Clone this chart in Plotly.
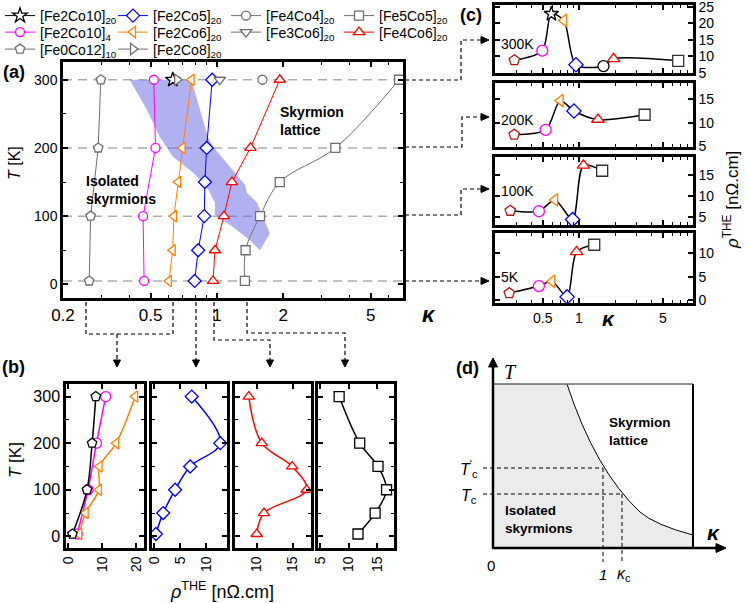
import math
import plotly.graph_objects as go

W, H = 747, 603
FONT = "Liberation Sans, Arial, sans-serif"
SERIF = "Liberation Serif, Times New Roman, serif"


def fx(p):
    return p / W


def fy(p):
    return 1 - p / H


# ---------------- panel (a): kappa vs T ----------------
T6 = [300, 200, 150, 100, 50, 5]
T4 = [300, 200, 100, 5]
T1 = [300]
kappa_Fe0Co12_10 = [0.297, 0.289, 0.267, 0.263]
kappa_Fe2Co10_4 = [0.517, 0.526, 0.462, 0.467]
kappa_Fe2Co10_20 = [0.63]
kappa_Fe2Co8_20 = [0.66]
kappa_Fe2Co6_20 = [0.767, 0.698, 0.667, 0.638, 0.630, 0.605]
kappa_Fe2Co5_20 = [0.952, 0.898, 0.882, 0.876, 0.822, 0.792]
kappa_Fe3Co6_20 = [1.03]
kappa_Fe4Co4_20 = [1.61]
kappa_Fe4Co6_20 = [1.93, 1.42, 1.17, 1.076, 0.98, 0.96]
kappa_Fe5Co5_20 = [6.72, 3.45, 1.93, 1.57, 1.35, 1.34]

# crossover band (kappa, T)
band_kappa = [0.765, 0.837, 0.910, 0.959, 1.182, 1.34, 1.37, 1.52, 1.74, 1.57,
              1.41, 1.182, 0.979, 0.979, 0.90, 0.778, 0.631, 0.551, 0.481, 0.402]
band_T = [300, 256, 216, 202, 168, 146, 134, 120, 75, 50,
          65, 84, 102, 120, 143, 164, 187, 216, 256, 300]

# ---------------- panel (b): rho_THE vs T ----------------
rho_b_Fe0Co12 = [8.1, 7.0, 5.5, 1.2]
rho_b_Fe2Co10_4 = [11.0, 8.3, 5.8, 2.6]
rho_b_Fe2Co6 = [19.7, 14.1, 9.2, 9.0, 5.1, 3.2]
rho_b_Fe2Co5 = [7.2, 12.7, 6.9, 4.0, 1.7, 0.3]
rho_b_Fe4Co6 = [8.9, 10.7, 14.9, 16.9, 11.0, 10.0]
rho_b_Fe5Co5 = [8.3, 11.9, 15.1, 16.6, 14.6, 11.6]

# ---------------- panel (c): rho_THE vs kappa ----------------
kappa_c_300 = [0.29, 0.495, 0.589, 0.748, 0.944, 1.60, 1.94, 6.70]
rho_c_300 = [8.8, 11.7, 22.9, 20.9, 7.4, 7.0, 9.2, 8.6]
kappa_c_200 = [0.289, 0.528, 0.70, 0.908, 1.44, 3.52]
rho_c_200 = [7.5, 8.5, 14.7, 12.5, 10.7, 11.7]
kappa_c_100 = [0.268, 0.464, 0.63, 0.885, 1.09, 1.56]
rho_c_100 = [6.4, 6.3, 9.0, 4.3, 17.3, 16.0]
kappa_c_5 = [0.263, 0.464, 0.597, 0.797, 0.956, 1.34]
rho_c_5 = [1.5, 3.0, 4.0, 0.7, 10.3, 11.8]

# tick labels
a_xticks = [0.2, 0.5, 1, 2, 5]
a_xtext = ["0.2", "0.5", "1", "2", "5"]
T_ticks = [0, 100, 200, 300]
c_xticks = [0.5, 1, 5]
c_xtext = ["0.5", "1", "5"]

BLACK = "#000000"
BLUE = "#0000ff"
MAGENTA = "#ff00ff"
ORANGE = "#ff8000"
RED = "#ff0000"
GREY = "#6e6e6e"
DARKRED = "#b01818"
DARK = "#333333"

fig = go.Figure()

# band
fig.add_trace(go.Scatter(x=band_kappa, y=band_T, mode="lines", fill="toself",
                         fillcolor="rgba(100,100,230,0.5)", line=dict(width=0),
                         xaxis="x", yaxis="y", showlegend=False, hoverinfo="skip"))

samples_a = [
    ("[Fe2Co10]<sub>20</sub>", kappa_Fe2Co10_20, T1, "star", BLACK, "legend", 11),
    ("[Fe2Co5]<sub>20</sub>", kappa_Fe2Co5_20, T6, "diamond", BLUE, "legend", 10),
    ("[Fe4Co4]<sub>20</sub>", kappa_Fe4Co4_20, T1, "circle", GREY, "legend", 9),
    ("[Fe5Co5]<sub>20</sub>", kappa_Fe5Co5_20, T6, "square", GREY, "legend", 9),
    ("[Fe2Co10]<sub>4</sub>", kappa_Fe2Co10_4, T4, "circle", MAGENTA, "legend2", 9),
    ("[Fe2Co6]<sub>20</sub>", kappa_Fe2Co6_20, T6, "triangle-left", ORANGE, "legend2", 10),
    ("[Fe3Co6]<sub>20</sub>", kappa_Fe3Co6_20, T1, "triangle-down", GREY, "legend2", 10),
    ("[Fe4Co6]<sub>20</sub>", kappa_Fe4Co6_20, T6, "triangle-up", RED, "legend2", 10),
    ("[Fe0Co12]<sub>10</sub>", kappa_Fe0Co12_10, T4, "pentagon", GREY, "legend3", 10),
    ("[Fe2Co8]<sub>20</sub>", kappa_Fe2Co8_20, T1, "triangle-right", GREY, "legend3", 10),
]
for name, k, t, sym, col, leg, sz in samples_a:
    shape = "spline" if "Fe5Co5" in name else "linear"
    fig.add_trace(go.Scatter(
        x=k, y=t, mode="lines+markers", name=name, legend=leg,
        line=dict(color=col, width=1, shape=shape),
        marker=dict(symbol=sym, size=sz, color="white", line=dict(color=col, width=1.3)),
        xaxis="x", yaxis="y"))

# panel (b)
b_series = [
    ("x2", "y2", rho_b_Fe2Co10_4, T4, "circle", MAGENTA),
    ("x2", "y2", rho_b_Fe2Co6, T6, "triangle-left", ORANGE),
    ("x2", "y2", rho_b_Fe0Co12, T4, "pentagon", BLACK),
    ("x3", "y3", rho_b_Fe2Co5, T6, "diamond", BLUE),
    ("x4", "y4", rho_b_Fe4Co6, T6, "triangle-up", RED),
    ("x5", "y5", rho_b_Fe5Co5, T6, "square", BLACK),
]
for xa, ya, r, t, sym, col in b_series:
    fig.add_trace(go.Scatter(
        x=r, y=t, mode="lines+markers", showlegend=False,
        line=dict(color=col, width=1.5, shape="spline", smoothing=1),
        marker=dict(symbol=sym, size=10, color="white", line=dict(color=col, width=1.3)),
        xaxis=xa, yaxis=ya))

# panel (c)
sym8 = ["pentagon", "circle", "star", "triangle-left", "diamond", "circle", "triangle-up", "square"]
col8 = [DARKRED, MAGENTA, BLACK, ORANGE, BLUE, BLACK, RED, DARK]
sym6 = ["pentagon", "circle", "triangle-left", "diamond", "triangle-up", "square"]
col6 = [DARKRED, MAGENTA, ORANGE, BLUE, RED, DARK]
c_series = [
    ("x6", "y6", kappa_c_300, rho_c_300, sym8, col8),
    ("x7", "y7", kappa_c_200, rho_c_200, sym6, col6),
    ("x8", "y8", kappa_c_100, rho_c_100, sym6, col6),
    ("x9", "y9", kappa_c_5, rho_c_5, sym6, col6),
]
for xa, ya, k, r, syms, cols in c_series:
    fig.add_trace(go.Scatter(
        x=k, y=r, mode="lines+markers", showlegend=False,
        line=dict(color="black", width=1.5, shape="spline", smoothing=0.8),
        marker=dict(symbol=syms, size=11, color="white", line=dict(color=cols, width=1.3)),
        xaxis=xa, yaxis=ya))


def axis(dom, rng, size=14, **kw):
    d = dict(domain=dom, range=rng, showline=True, linecolor="black", linewidth=2.5,
             mirror="allticks", ticks="inside", ticklen=5, tickwidth=1.5, tickcolor="black",
             showgrid=False, zeroline=False, fixedrange=True, automargin=False,
             ticklabeloverflow="allow",
             tickfont=dict(family=FONT, size=size, color="black"))
    d.update(kw)
    return d


def minor(vals):
    return dict(tickvals=vals, ticks="inside", ticklen=3, tickwidth=1.2, tickcolor="black", showgrid=False)


L = math.log10
ax = {}
# (a)
ax["xaxis"] = axis([fx(63), fx(403)], [L(0.2), L(7)], size=17, type="log", anchor="y",
                   tickmode="array", tickvals=a_xticks, ticktext=a_xtext,
                   minor=minor([0.3, 0.4, 0.6, 0.7, 0.8, 0.9, 3, 4, 6, 7]))
ax["yaxis"] = axis([fy(298), fy(62)], [-20, 326], size=14, anchor="x",
                   tickmode="array", tickvals=T_ticks, minor=minor([50, 150, 250]))
# (b)
b_dom = [(66, 144, [-0.7, 22.3], [0, 10, 20]), (152, 227, [-0.45, 14], [0, 5, 10]),
         (235, 311, [7, 17.5], [10, 15]), (318, 394, [4.6, 17.9], [5, 10, 15])]
for i, (x0, x1, rng, tv) in enumerate(b_dom):
    n = i + 2
    ax[f"xaxis{n}"] = axis([fx(x0), fx(x1)], rng, size=14, anchor=f"y{n}", tickangle=-90,
                           tickmode="array", tickvals=tv)
    ax[f"yaxis{n}"] = axis([fy(548), fy(384)], [-25, 327], size=16, anchor=f"x{n}",
                           tickmode="array", tickvals=T_ticks, showticklabels=(n == 2),
                           minor=minor([50, 150, 250]))
# (c)
c_dom = [(5, 73, [4.9, 25.6], [5, 10, 15, 20, 25]), (83, 147, [4.9, 18.4], [5, 10, 15]),
         (157, 225, [3, 19.3], [5, 10, 15]), (233, 303, [-0.6, 14.3], [0, 5, 10])]
for i, (y0, y1, rng, tv) in enumerate(c_dom):
    n = i + 6
    ax[f"xaxis{n}"] = axis([fx(495), fx(693)], [L(0.2), L(8.9)], size=14, type="log",
                           anchor=f"y{n}", tickmode="array", tickvals=c_xticks, ticktext=c_xtext,
                           showticklabels=(n == 9),
                           minor=minor([0.3, 0.4, 0.6, 0.7, 0.8, 0.9, 2, 3, 4, 6, 7, 8]))
    ax[f"yaxis{n}"] = axis([fy(y1), fy(y0)], rng, size=14, anchor=f"x{n}", side="right",
                           tickmode="array", tickvals=tv)

fig.update_layout(**ax)

# ---------------- shapes ----------------
shapes = []
for t in [300, 200, 100, 5]:
    shapes.append(dict(type="line", xref="x domain", yref="y", x0=0, x1=1, y0=t, y1=t,
                       layer="below", line=dict(color="#adadad", width=1.5, dash="9px,6px")))


def P(pts, close=False):
    s = "M " + " L ".join(f"{fx(x):.5f},{fy(y):.5f}" for x, y in pts)
    return s + (" Z" if close else "")


DASH = dict(color="black", width=1.2, dash="4px,3px")


def dpath(pts):
    shapes.append(dict(type="path", xref="paper", yref="paper", path=P(pts), line=DASH))


def arrow_right(x, y, l=8, w=3.5):
    shapes.append(dict(type="path", xref="paper", yref="paper",
                       path=P([(x - l, y - w), (x, y), (x - l, y + w)], True),
                       fillcolor="black", line=dict(color="black", width=1)))


def arrow_down(x, y, l=7, w=3.5):
    shapes.append(dict(type="path", xref="paper", yref="paper",
                       path=P([(x - w, y - l), (x, y), (x + w, y - l)], True),
                       fillcolor="black", line=dict(color="black", width=1)))


def arrow_up(x, y, l=9, w=4.5):
    shapes.append(dict(type="path", xref="paper", yref="paper",
                       path=P([(x - w, y + l), (x, y), (x + w, y + l)], True),
                       fillcolor="black", line=dict(color="black", width=1)))


# (a) -> (c) connectors
dpath([(405, 80), (461, 80), (461, 40), (482, 40)]); arrow_right(489, 40)
dpath([(405, 147), (462, 147), (462, 117), (482, 117)]); arrow_right(489, 117)
dpath([(405, 215), (461, 215), (461, 189), (482, 189)]); arrow_right(489, 189)
dpath([(405, 281), (482, 281)]); arrow_right(489, 281)
# (a) -> (b) connectors
dpath([(86, 302), (86, 334), (173, 334), (173, 302)])
dpath([(117, 334), (117, 361)]); arrow_down(117, 367)
dpath([(196, 302), (196, 361)]); arrow_down(196, 367)
dpath([(214, 302), (214, 340), (270, 340), (270, 361)]); arrow_down(270, 367)
dpath([(247, 302), (247, 333), (345, 333), (345, 361)]); arrow_down(345, 367)

# (d) schematic
curve = (f"M {fx(567):.5f},{fy(384):.5f} Q {fx(595):.5f},{fy(470):.5f} {fx(640):.5f},{fy(512):.5f} "
         f"Q {fx(655):.5f},{fy(525):.5f} {fx(693):.5f},{fy(535):.5f}")
fill = (f"M {fx(493):.5f},{fy(384):.5f} L {fx(567):.5f},{fy(384):.5f} "
        f"Q {fx(595):.5f},{fy(470):.5f} {fx(640):.5f},{fy(512):.5f} "
        f"Q {fx(655):.5f},{fy(525):.5f} {fx(693):.5f},{fy(535):.5f} "
        f"L {fx(693):.5f},{fy(548):.5f} L {fx(493):.5f},{fy(548):.5f} Z")
shapes.append(dict(type="path", xref="paper", yref="paper", path=fill,
                   fillcolor="#ebebeb", line=dict(width=0)))
shapes.append(dict(type="path", xref="paper", yref="paper", path=curve,
                   line=dict(color="black", width=1)))
shapes.append(dict(type="path", xref="paper", yref="paper", path=P([(493, 384), (693, 384)]),
                   line=dict(color="#666666", width=1.5)))
shapes.append(dict(type="path", xref="paper", yref="paper", path=P([(693, 384), (693, 548)]),
                   line=dict(color="black", width=2)))
for pts in ([(483, 468), (603, 468)], [(483, 494), (622, 494)],
            [(603, 468), (603, 562)], [(622, 494), (622, 562)]):
    shapes.append(dict(type="path", xref="paper", yref="paper", path=P(pts),
                       line=dict(color="black", width=1, dash="4px,3px")))
shapes.append(dict(type="path", xref="paper", yref="paper", path=P([(493, 549), (493, 366)]),
                   line=dict(color="black", width=2.5)))
arrow_up(493, 358)
shapes.append(dict(type="path", xref="paper", yref="paper", path=P([(492, 548), (717, 548)]),
                   line=dict(color="black", width=2.5)))
arrow_right(726, 548, l=10, w=4.5)

# ---------------- annotations ----------------
ann = []


def A(px, py, text, size=14, xanchor="center", angle=0, family=FONT, color="black"):
    ann.append(dict(x=fx(px), y=fy(py), xref="paper", yref="paper", text=text, showarrow=False,
                    xanchor=xanchor, yanchor="middle", textangle=angle,
                    align="left" if xanchor == "left" else "center",
                    font=dict(family=family, size=size, color=color)))


A(14, 72, "<b>(a)</b>", 18)
A(13, 367, "<b>(b)</b>", 18)
A(471, 15, "<b>(c)</b>", 18)
A(467, 368, "<b>(d)</b>", 18)
A(84, 190, "<b>Isolated<br>skyrmions</b>", 14, "left")
A(278, 121, "<b>Skyrmion<br>lattice</b>", 14, "left")
A(429, 314, "<b><i>κ</i></b>", 22)
A(14, 163, "<i>T</i> [K]", 16, angle=-90)
A(15, 460, "<i>T</i> [K]", 17, angle=-90)
A(222, 590, "<i>ρ</i><sup>THE</sup> [nΩ.cm]", 18)
A(499, 44, "300K", 14, "left")
A(499, 120, "200K", 14, "left")
A(499, 191, "100K", 14, "left")
A(499, 277, "5K", 14, "left")
A(608, 318, "<b><i>κ</i></b>", 21)
A(731, 200, "<i>ρ</i><sup>THE</sup> [nΩ.cm]", 17, angle=-90)
A(511, 372, "<i>T</i>", 20, family=SERIF)
A(469, 469, "<i>T</i><sup>'</sup><sub>c</sub>", 16)
A(469, 496, "<i>T</i><sub>c</sub>", 16)
A(491, 565, "0", 15)
A(603, 574, "<i>1</i>", 15)
A(624, 574, "<i>κ</i><sub>c</sub>", 16)
A(607, 431, "<b>Skyrmion<br>lattice</b>", 13.5, "left")
A(503, 519, "<b>Isolated<br>skyrmions</b>", 13.5, "left")
A(713, 532, "<b><i>κ</i></b>", 21)

leg_common = dict(orientation="h", x=0, xanchor="left", yanchor="top", entrywidth=68,
                  entrywidthmode="pixels", bgcolor="rgba(0,0,0,0)", borderwidth=0,
                  font=dict(family=FONT, size=14, color="black"), itemwidth=30)

fig.update_layout(
    width=W, height=H, margin=dict(l=0, r=0, t=0, b=0, autoexpand=False),
    paper_bgcolor="white", plot_bgcolor="rgba(0,0,0,0)",
    font=dict(family=FONT, color="black"),
    shapes=shapes, annotations=ann,
    legend=dict(y=fy(0), **leg_common),
    legend2=dict(y=fy(16.5), **leg_common),
    legend3=dict(y=fy(33.5), **leg_common),
)

fig.write_html("out.html", config={"displayModeBar": False},
               post_script="document.body.style.margin='0';")
